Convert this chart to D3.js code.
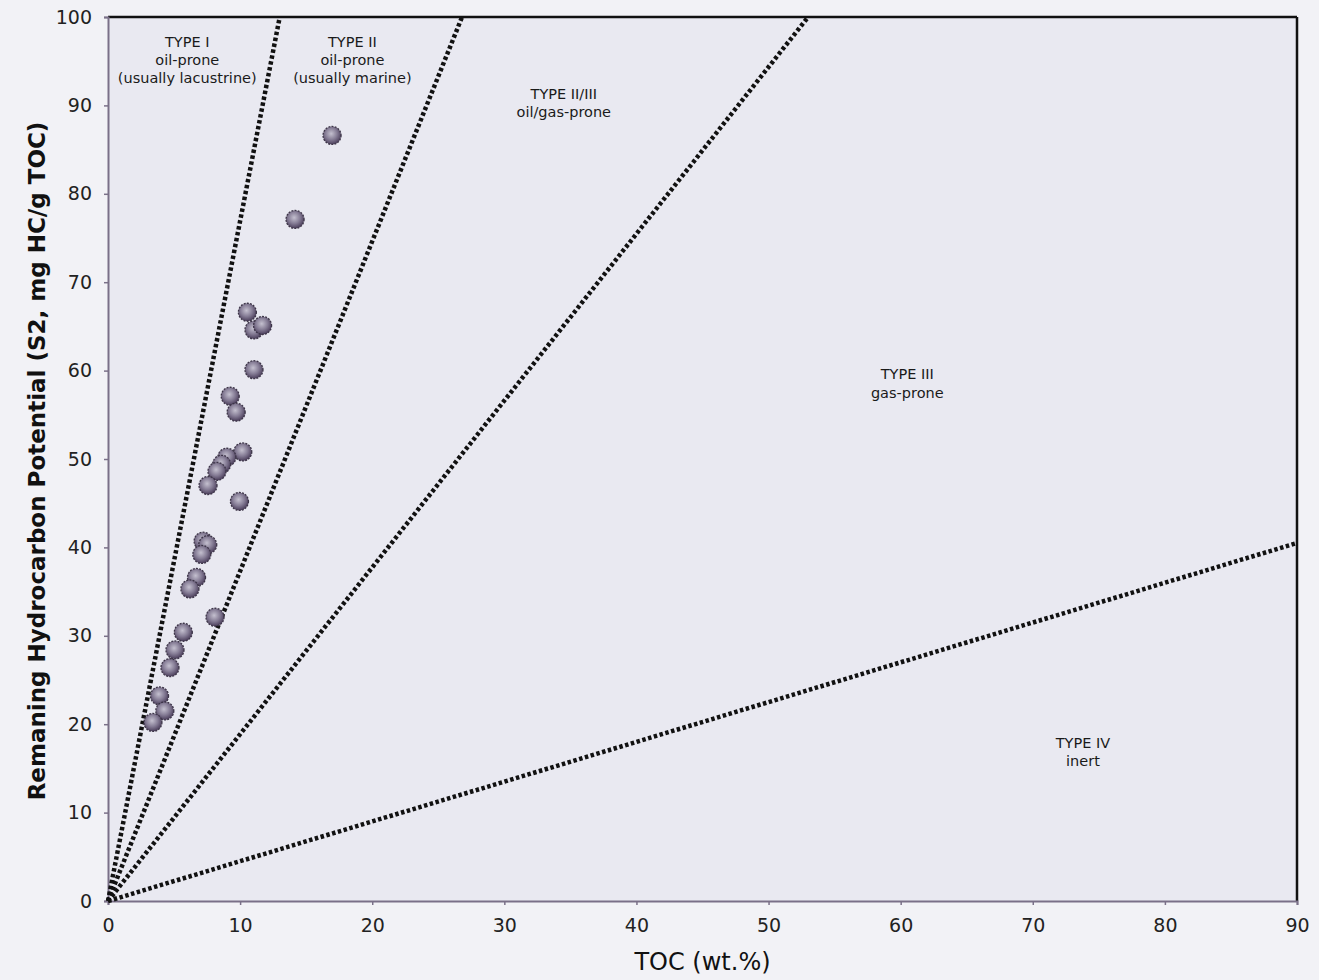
<!DOCTYPE html>
<html><head><meta charset="utf-8">
<script src="https://cdn.jsdelivr.net/npm/d3@7"></script>
<style>body{margin:0;background:#f2f2f6;}svg{display:block;}</style>
</head><body>
<svg id="c" width="1319" height="980"></svg>
<script>
const tocValues = [16.96,14.16,10.55,11.05,11.7,11.05,9.25,9.7,10.2,9.0,8.6,8.25,7.57,9.95,7.2,7.55,7.1,6.7,6.2,8.1,5.7,5.07,4.69,3.9,4.3,3.4];
const s2Values  = [86.6,77.1,66.6,64.6,65.1,60.1,57.1,55.3,50.8,50.2,49.4,48.6,47.0,45.2,40.7,40.3,39.2,36.6,35.3,32.1,30.4,28.4,26.4,23.2,21.5,20.2];
const lineNames = ["I","II","II/III","IV"];
const lineEndX  = [13.0,26.8,53.0,90];
const lineEndY  = [100,100,100,40.5];
const zoneLabels = [
  {lines:["TYPE I","oil-prone","(usually lacustrine)"], x:6, y:96.6},
  {lines:["TYPE II","oil-prone","(usually marine)"], x:18.5, y:96.6},
  {lines:["TYPE II/III","oil/gas-prone"], x:34.5, y:90.7},
  {lines:["TYPE III","gas-prone"], x:60.5, y:59.0},
  {lines:["TYPE IV","inert"], x:73.8, y:17.3}
];
const xTicks = [0,10,20,30,40,50,60,70,80,90];
const yTicks = [0,10,20,30,40,50,60,70,80,90,100];

const svg = d3.select("#c");
const L=108, R=1297, T=17, B=901;
const x = d3.scaleLinear().domain([0,90]).range([L,R]);
const y = d3.scaleLinear().domain([0,100]).range([B,T]);
const font = "'Century Gothic','URW Gothic','DejaVu Sans',sans-serif";

const defs = svg.append("defs");
const g = defs.append("radialGradient").attr("id","mk").attr("cx","45%").attr("cy","40%").attr("r","60%");
g.append("stop").attr("offset","0%").attr("stop-color","#c4c0cf");
g.append("stop").attr("offset","55%").attr("stop-color","#857c95");
g.append("stop").attr("offset","100%").attr("stop-color","#4a3d5a");

svg.append("rect").attr("x",L).attr("y",T).attr("width",R-L).attr("height",B-T).attr("fill","#e9e9f1");

svg.append("line").attr("x1",L).attr("x2",R).attr("y1",T).attr("y2",T).attr("stroke","#111").attr("stroke-width",2.5);
svg.append("line").attr("x1",R).attr("x2",R).attr("y1",T).attr("y2",B).attr("stroke","#111").attr("stroke-width",2.5);

const xa = svg.append("g").attr("transform",`translate(0,${B})`)
  .call(d3.axisBottom(x).tickValues(xTicks).tickSize(4).tickPadding(10));
const ya = svg.append("g").attr("transform",`translate(${L},0)`)
  .call(d3.axisLeft(y).tickValues(yTicks).tickSize(4).tickPadding(12));
[xa,ya].forEach(a=>{
  a.select(".domain").attr("stroke","#7a7088").attr("stroke-width",2);
  a.selectAll(".tick line").attr("stroke","#7a7088").attr("stroke-width",1.5);
  a.selectAll("text").attr("font-family",font).attr("font-size",19).attr("fill","#222");
});
xa.selectAll("text").attr("dy","0.9em");

svg.append("g").selectAll("line").data(lineNames).join("line")
  .attr("x1",x(0)).attr("y1",y(0))
  .attr("x2",(d,i)=>x(lineEndX[i])).attr("y2",(d,i)=>y(lineEndY[i]))
  .attr("stroke","#111").attr("stroke-width",4.5).attr("stroke-dasharray","3.5,2.5");

const zl = svg.append("g").selectAll("text").data(zoneLabels).join("text")
  .attr("x",d=>x(d.x)).attr("y",d=>y(d.y))
  .attr("text-anchor","middle").attr("font-family",font).attr("font-size",14.5).attr("fill","#1a1a1a");
zl.selectAll("tspan").data(d=>d.lines.map(t=>({t,x:x(d.x)}))).join("tspan")
  .attr("x",d=>d.x).attr("dy",(d,i)=>i?"1.25em":0).text(d=>d.t);

svg.append("g").selectAll("circle").data(tocValues).join("circle")
  .attr("cx",(d)=>x(d)).attr("cy",(d,i)=>y(s2Values[i])).attr("r",9)
  .attr("fill","url(#mk)").attr("stroke","#3d3548").attr("stroke-width",1.3).attr("stroke-dasharray","2,1.2");

svg.append("text").attr("x",(L+R)/2).attr("y",970).attr("text-anchor","middle")
  .attr("font-family",font).attr("font-size",24).attr("fill","#111").text("TOC (wt.%)");
svg.append("text").attr("transform",`translate(45,${(T+B)/2+2}) rotate(-90)`).attr("text-anchor","middle")
  .attr("font-family",font).attr("font-size",23).attr("font-weight","bold").attr("fill","#111")
  .text("Remaning Hydrocarbon Potential (S2, mg HC/g TOC)");
</script>
</body></html>
